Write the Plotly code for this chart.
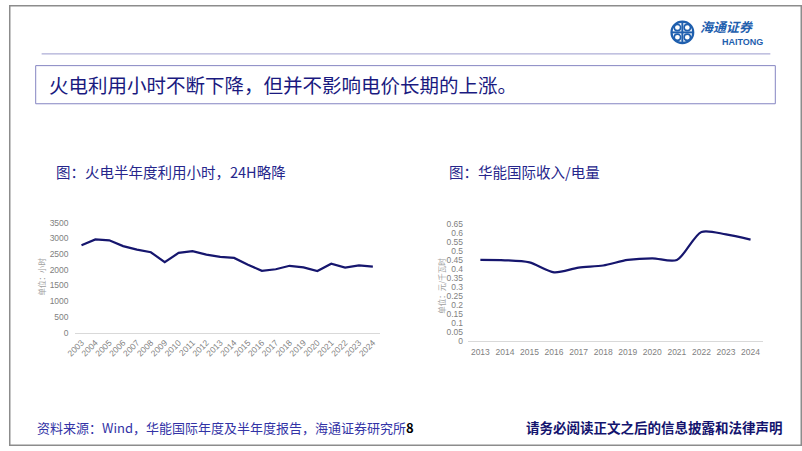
import plotly.graph_objects as go

W, H = 802, 451

# ---- data ----
hours_years = [str(y) for y in range(2003, 2025)]
hours_values = [2780, 2965, 2935, 2750, 2640, 2555, 2240, 2535, 2590, 2480,
                2410, 2375, 2160, 1965, 2015, 2125, 2075, 1960, 2190, 2065, 2140, 2100]

price_years = [str(y) for y in range(2013, 2025)]
price_values = [0.450, 0.448, 0.436, 0.381, 0.407, 0.419, 0.450, 0.459, 0.450, 0.606, 0.592, 0.563]

left_yticks = [0, 500, 1000, 1500, 2000, 2500, 3000, 3500]
right_yticks = [0, 0.05, 0.1, 0.15, 0.2, 0.25, 0.3, 0.35, 0.4, 0.45, 0.5, 0.55, 0.6, 0.65]


def px(x):
    return x / W


def py(y):
    return 1 - y / H


NAVY = "#16166e"
TICK = "#7f7f7f"
CJK = "Noto Sans CJK SC"
LAT = "Liberation Sans, Arial"

fig = go.Figure()

fig.add_trace(go.Scatter(x=hours_years, y=hours_values, mode="lines",
                         line=dict(color=NAVY, width=2.2), xaxis="x", yaxis="y",
                         showlegend=False, hoverinfo="x+y"))
fig.add_trace(go.Scatter(x=price_years, y=price_values, mode="lines",
                         line=dict(color=NAVY, width=2.2, shape="spline", smoothing=0.8),
                         xaxis="x2", yaxis="y2", showlegend=False, hoverinfo="x+y"))

axis_common = dict(showgrid=False, zeroline=False, ticks="", fixedrange=True,
                   tickfont=dict(family=LAT, size=8.5, color=TICK))

fig.update_layout(
    width=W, height=H,
    margin=dict(l=0, r=0, t=0, b=0),
    paper_bgcolor="white", plot_bgcolor="white",
    xaxis=dict(axis_common, domain=[px(66.3), px(375)], type="category",
               range=[-0.5, 21.5], anchor="y", showline=True, linecolor="#d9d9d9",
               linewidth=1, tickangle=-45, ticklabelstandoff=1),
    yaxis=dict(axis_common, domain=[py(335), py(222.5)], range=[0, 3500],
               tickvals=left_yticks, showline=False, anchor="x", ticklabelstandoff=5),
    xaxis2=dict(axis_common, domain=[px(464.3), px(762.4)], type="category",
                range=[-0.5, 11.5], anchor="y2", showline=True, linecolor="#d9d9d9",
                linewidth=1, tickangle=0, ticklabelstandoff=3),
    yaxis2=dict(axis_common, domain=[py(343.3), py(224)], range=[0, 0.65],
                tickvals=right_yticks, ticktext=[("%g" % v) for v in right_yticks],
                showline=False, anchor="x2", ticklabelstandoff=4),
)

shapes = []
annotations = []

# slide border
shapes.append(dict(type="rect", xref="paper", yref="paper", x0=px(0.75), x1=px(801.25),
                   y0=py(450.25), y1=py(0.75), line=dict(color="#8c8c8c", width=1.5)))
# header rule
shapes.append(dict(type="line", xref="paper", yref="paper", x0=px(33), x1=px(770),
                   y0=py(50), y1=py(50), line=dict(color="#9a9acc", width=1)))
# title box
shapes.append(dict(type="rect", xref="paper", yref="paper", x0=px(27), x1=px(775),
                   y0=py(101), y1=py(62), line=dict(color="#8585c2", width=1)))

# logo icon
LOGO = "#1f5fae"
cx, cy, r = 681, 28, 11
shapes.append(dict(type="circle", xref="paper", yref="paper", x0=px(cx - r), x1=px(cx + r),
                   y0=py(cy + r), y1=py(cy - r), line=dict(color=LOGO, width=2.2)))
shapes.append(dict(type="line", xref="paper", yref="paper", x0=px(cx - r), x1=px(cx + r),
                   y0=py(cy), y1=py(cy), line=dict(color=LOGO, width=2)))
shapes.append(dict(type="line", xref="paper", yref="paper", x0=px(cx), x1=px(cx),
                   y0=py(cy - r), y1=py(cy + r), line=dict(color=LOGO, width=2)))
for dx, dy in [(-5, -5), (5, -5), (-5, 5), (5, 5)]:
    shapes.append(dict(type="circle", xref="paper", yref="paper",
                       x0=px(cx + dx - 3.2), x1=px(cx + dx + 3.2),
                       y0=py(cy + dy + 3.2), y1=py(cy + dy - 3.2),
                       line=dict(color=LOGO, width=1.6)))

annotations.append(dict(text="<b><i>海通证券</i></b>", x=px(697), y=py(22), xref="paper", yref="paper",
                        xanchor="left", yanchor="middle", showarrow=False,
                        font=dict(family=CJK, size=13, color=LOGO)))
annotations.append(dict(text="<b>HAITONG</b>", x=px(742), y=py(38), xref="paper", yref="paper",
                        xanchor="center", yanchor="middle", showarrow=False,
                        font=dict(family=LAT, size=9, color=LOGO)))

# headline
annotations.append(dict(text="火电利用小时不断下降，但并不影响电价长期的上涨。", x=px(38), y=py(81),
                        xref="paper", yref="paper", xanchor="left", yanchor="middle",
                        showarrow=False, font=dict(family=CJK, size=19.5, color="#1a1a80")))

# chart titles
annotations.append(dict(text="图：火电半年度利用小时，24H略降", x=px(46), y=py(170),
                        xref="paper", yref="paper", xanchor="left", yanchor="middle",
                        showarrow=False, font=dict(family=CJK, size=14.5, color="#26268c")))
annotations.append(dict(text="图：华能国际收入/电量", x=px(443), y=py(170),
                        xref="paper", yref="paper", xanchor="left", yanchor="middle",
                        showarrow=False, font=dict(family=CJK, size=14.5, color="#26268c")))

# y-axis unit labels
annotations.append(dict(text="单位：小时", x=px(33), y=py(278), xref="paper", yref="paper",
                        xanchor="center", yanchor="middle", showarrow=False, textangle=-90,
                        font=dict(family=CJK, size=7.5, color="#a0a0a0")))
annotations.append(dict(text="单位：元/千瓦时", x=px(438), y=py(287), xref="paper", yref="paper",
                        xanchor="center", yanchor="middle", showarrow=False, textangle=-90,
                        font=dict(family=CJK, size=7.5, color="#a0a0a0")))

# footer
annotations.append(dict(text="资料来源：Wind，华能国际年度及半年度报告，海通证券研究所<span style='color:black'><b>8</b></span>",
                        x=px(26), y=py(432), xref="paper", yref="paper", xanchor="left",
                        yanchor="middle", showarrow=False,
                        font=dict(family=CJK, size=13, color="#3333a6")))
annotations.append(dict(text="<b>请务必阅读正文之后的信息披露和法律声明</b>", x=px(785), y=py(432),
                        xref="paper", yref="paper", xanchor="right", yanchor="middle",
                        showarrow=False, font=dict(family=CJK, size=13.5, color="#14146e")))

fig.update_layout(shapes=shapes, annotations=annotations)

fig.write_html("out.html", config={"displayModeBar": False},
               post_script="document.body.style.margin='0';document.body.style.overflow='hidden';")
